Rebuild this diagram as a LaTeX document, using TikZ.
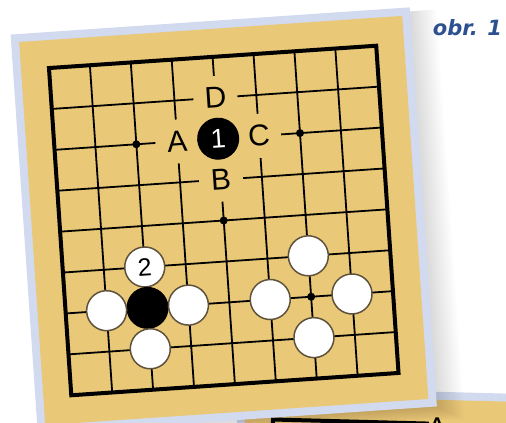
\documentclass[tikz,border=0pt]{standalone}
\usepackage{fontspec}
\setmainfont{Liberation Sans}
\newfontfamily\obrfont{DejaVu Sans}
\definecolor{boardtan}{RGB}{233,200,120}
\definecolor{cardblue}{RGB}{210,218,240}
\definecolor{stoneedge}{RGB}{95,82,60}
\definecolor{obrblue}{RGB}{45,80,145}
\begin{document}
\begin{tikzpicture}[x=1pt,y=-1pt,
  gridline/.style={line width=1.8pt, black},
  border/.style={line width=4pt, black, line join=miter},
  whitestone/.style={circle, fill=white, draw=stoneedge, line width=1.5pt, minimum size=40pt, inner sep=0pt, font=\fontsize{25}{25}\selectfont},
  blackstone/.style={circle, fill=black, draw=black, line width=1pt, minimum size=41pt, inner sep=0pt, text=white, font=\fontsize{27}{27}\selectfont},
  ptlabel/.style={fill=boardtan, minimum size=44pt, inner sep=0pt, font=\fontsize{30}{30}\selectfont},
  hoshi/.style={circle, fill=black, minimum size=8pt, inner sep=0pt},
]
\useasboundingbox (0,0) rectangle (506,423);
\fill[white] (0,0) rectangle (506,423);

% second card (behind)
\begin{scope}[shift={(273,419.5)}, rotate=-1.5]
  \fill[cardblue] (-36,-32) rectangle (420,120);
  \fill[boardtan] (-28,-24) rectangle (420,120);
  \coordinate (c2a) at (0,60);
  \coordinate (c2b) at (0,0);
  \coordinate (c2c) at (156,0);
  \draw[border] (c2a) -- (c2b) -- (c2c);
  \node[font=\fontsize{30}{30}\selectfont, anchor=north, inner sep=0pt] (A2) at (164,-6) {A};
\end{scope}

% first card
\begin{scope}[shift={(223.75,220.5)}, rotate=3.9, transform shape]
  \foreach \i in {1,...,12}
    \fill[black, opacity=0.012] (-198,-196) rectangle ({200+2.2*\i},{200+1.2*\i});
  \fill[cardblue] (-200,-200) rectangle (200,200);
  \fill[boardtan] (-192,-192) rectangle (192,192);
  \foreach \u in {-123,-82,-41,0,41,82,123} {
    \draw[gridline] (\u,-164) -- (\u,164);
    \draw[gridline] (-164,\u) -- (164,\u);
  }
  \draw[border] (-164,-164) rectangle (164,164);
  \node[hoshi] (h1) at (-82,-82) {};
  \node[hoshi] (h2) at (82,-82) {};
  \node[hoshi] (h3) at (0,0) {};
  \node[hoshi] (h4) at (82,82) {};
  \node[ptlabel] (D) at (0,-123) {D};
  \node[ptlabel] (A) at (-41,-82) {A};
  \node[ptlabel] (C) at (41,-82) {C};
  \node[ptlabel] (B) at (0,-41) {B};
  \node[blackstone] (s1) at (0,-82) {1};
  \node[whitestone] (s2) at (-82,41) {2};
  \node[blackstone] (b1) at (-82,82) {};
  \node[whitestone] (w1) at (-123,82) {};
  \node[whitestone] (w2) at (-41,82) {};
  \node[whitestone] (w3) at (-82,123) {};
  \node[whitestone] (w4) at (82,41) {};
  \node[whitestone] (w5) at (41,82) {};
  \node[whitestone] (w6) at (123,82) {};
  \node[whitestone] (w7) at (82,123) {};
\end{scope}

\node[font={\obrfont\bfseries\itshape\fontsize{21}{21}\selectfont}, text=obrblue, anchor=base] (obr) at (467.5,35) {obr. 1};
\end{tikzpicture}
\end{document}
